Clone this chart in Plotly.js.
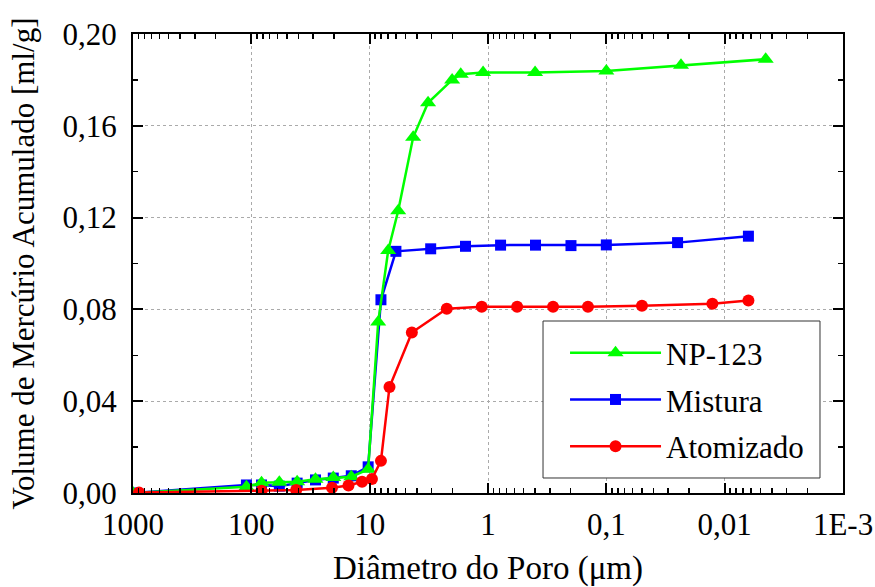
<!DOCTYPE html>
<html>
<head>
<meta charset="utf-8">
<script src="https://cdn.plot.ly/plotly-3.0.1.min.js"></script>
<style>html,body{margin:0;padding:0;background:#fff;}#chart{width:875px;height:587px;}</style>
</head>
<body>
<div id="chart"></div>
<script>
// Pore diameter (µm) and cumulative mercury volume (ml/g)
const xNP = [1000, 110, 82, 58, 41, 28.7, 20.3, 14.3, 10.3, 8.47, 6.97, 5.74, 4.29, 3.21, 2.01, 1.70, 1.10, 0.40, 0.10, 0.0234, 0.0045];
const yNP = [0.0000, 0.0027, 0.0045, 0.0047, 0.0049, 0.0060, 0.0067, 0.0071, 0.0103, 0.0745, 0.1057, 0.1230, 0.1550, 0.1700, 0.1800, 0.1825, 0.1832, 0.1832, 0.1839, 0.1864, 0.1890];

const xMist = [1000, 110, 82, 58, 41, 28.7, 20.3, 14.3, 10.3, 8.03, 6.0, 3.05, 1.55, 0.783, 0.397, 0.199, 0.100, 0.025, 0.0063];
const yMist = [0.0000, 0.0035, 0.0035, 0.0030, 0.0043, 0.0057, 0.0065, 0.0075, 0.0114, 0.0842, 0.1053, 0.1064, 0.1075, 0.1080, 0.1080, 0.1078, 0.1081, 0.1091, 0.1119];

const xAtom = [890, 82, 41.8, 20.8, 15.1, 11.6, 9.57, 8.03, 6.8, 4.40, 2.23, 1.13, 0.567, 0.282, 0.143, 0.050, 0.0127, 0.0063];
const yAtom = [0.0002, 0.0010, 0.0013, 0.0023, 0.0033, 0.0049, 0.0061, 0.0140, 0.0462, 0.0699, 0.0803, 0.0812, 0.0812, 0.0812, 0.0812, 0.0816, 0.0825, 0.0839];

const seriesNames = ["NP-123", "Mistura", "Atomizado"];
const xTickVals = [1000, 100, 10, 1, 0.1, 0.01, 0.001];
const xTickText = ["1000", "100", "10", "1", "0,1", "0,01", "1E-3"];

const minorX = [];
for (let e = -3; e < 3; e++) {
  for (let m = 2; m <= 9; m++) minorX.push(m * Math.pow(10, e));
}

const FONT = 'Liberation Serif, Times New Roman, serif';
const FS = 31;

const traces = [
  {x: xMist, y: yMist, name: seriesNames[1], legendrank: 2, legendgroup: 'b', type: 'scatter', mode: 'lines+markers',
   line: {color: '#0000ff', width: 2.5}, marker: {symbol: 'square', size: 11, color: '#0000ff'}},
  {x: xNP, y: yNP, name: seriesNames[0], legendrank: 1, legendgroup: 'a', type: 'scatter', mode: 'lines+markers',
   line: {color: '#00ff00', width: 2.5}, marker: {symbol: 'triangle-up', size: 14, color: '#00ff00'}},
  {x: xAtom, y: yAtom, name: seriesNames[2], legendrank: 3, legendgroup: 'c', type: 'scatter', mode: 'lines+markers',
   line: {color: '#ff0000', width: 2.5}, marker: {symbol: 'circle', size: 12, color: '#ff0000'}}
];

const layout = {
  width: 875, height: 587,
  margin: {l: 133, r: 32, t: 34, b: 94},
  paper_bgcolor: '#fff', plot_bgcolor: '#fff',
  separators: ',.',
  font: {family: FONT, size: FS, color: '#000'},
  showlegend: true,
  shapes: [{
    type: 'rect', xref: 'paper', yref: 'paper', layer: 'above',
    x0: 0.5775, x1: 0.9676, y0: 0.0327, y1: 0.3747,
    fillcolor: '#fff', line: {color: '#333', width: 1}
  }],
  legend: {
    x: 0.5775, y: 0.3638, xanchor: 'left', yanchor: 'top',
    bgcolor: 'rgba(0,0,0,0)', borderwidth: 0,
    font: {family: FONT, size: FS, color: '#000'},
    itemwidth: 91, indentation: 22, traceorder: 'grouped', tracegroupgap: 3.5
  },
  xaxis: {
    type: 'log', range: [3, -3], autorange: false,
    tickmode: 'array', tickvals: xTickVals, ticktext: xTickText,
    ticks: 'inside', ticklen: 10, tickwidth: 2, tickcolor: '#000',
    showline: true, linewidth: 2, linecolor: '#000', mirror: 'allticks',
    showgrid: true, gridcolor: '#aaa', gridwidth: 1, griddash: 'dot',
    zeroline: false,
    minor: {tickmode: 'array', tickvals: minorX, ticks: 'inside', ticklen: 5, tickwidth: 1.5, tickcolor: '#000', showgrid: false},
    tickfont: {family: FONT, size: FS, color: '#000'},
    ticklabelstandoff: 3,
    title: {text: 'Diâmetro do Poro (μm)', font: {family: FONT, size: 33, color: '#000'}, standoff: 22},
    automargin: false
  },
  yaxis: {
    range: [0, 0.2], autorange: false,
    tick0: 0, dtick: 0.04, tickformat: '.2f',
    ticks: 'inside', ticklen: 10, tickwidth: 2, tickcolor: '#000',
    showline: true, linewidth: 2, linecolor: '#000', mirror: 'allticks',
    showgrid: true, gridcolor: '#aaa', gridwidth: 1, griddash: 'dot',
    zeroline: false,
    minor: {dtick: 0.02, ticks: 'inside', ticklen: 5, tickwidth: 1.5, tickcolor: '#000', showgrid: false},
    tickfont: {family: FONT, size: FS, color: '#000'},
    ticklabelstandoff: 8,
    title: {text: 'Volume de Mercúrio Acumulado [ml/g]', font: {family: FONT, size: FS, color: '#000'}, standoff: 19},
    automargin: false
  }
};

Plotly.newPlot('chart', traces, layout, {displayModeBar: false, staticPlot: true});
</script>
</body>
</html>
